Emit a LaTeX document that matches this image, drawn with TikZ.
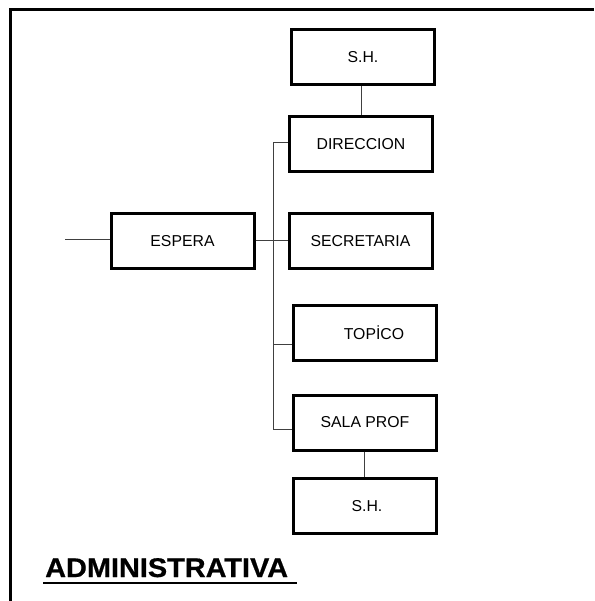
\documentclass[tikz,border=0pt]{standalone}
\usepackage{fontspec}
\setmainfont{Liberation Sans}
\begin{document}
\begin{tikzpicture}[x=1pt,y=1pt,
  roombox/.style={draw=black,line width=3pt,minimum width=143pt,minimum height=55pt,inner sep=0pt,font=\fontsize{15.8}{17}\selectfont,fill=white},
  link/.style={draw=black!75,line width=1pt}]
\useasboundingbox (0,0) rectangle (594,-601);
% frame
\draw[line width=3pt] (10,-601) -- (10,-10) -- (594,-10);
% boxes
\node[roombox] (sh1) at (363,-57) {S.H.};
\node[roombox] (dir) at (361,-144) {DIRECCION};
\node[roombox] (esp) at (182.5,-241) {\raisebox{-1pt}{ESPERA}};
\node[roombox] (sec) at (360.5,-241) {SECRETARIA};
\node[roombox] (top) at (365,-332.5) {\hspace*{18pt}TOPİCO};
\node[roombox] (sala) at (365,-422.5) {\raisebox{-3pt}{SALA PROF}};
\node[roombox] (sh2) at (365,-506) {\hspace*{4pt}S.H.};
\coordinate (in) at (65,-240);
\coordinate (bustop) at (273.5,-143);
\coordinate (busbot) at (273.5,-429);
\coordinate (topin) at ([yshift=-11.5pt]top.west);
\coordinate (salax) at (364,0);
% connectors
\draw[link] (dir.north) -- (dir.north |- sh1.south);
\draw[link] (in) -- (esp.west |- in);
\draw[link] (esp.east) -- (sec.west);
\draw[link] (dir.west |- bustop) -- (bustop) -- (busbot) -- (sala.west |- busbot);
\draw[link] (bustop |- topin) -- (topin);
\draw[link] (salax |- sala.south) -- (salax |- sh2.north);
% title
\node[anchor=base west,inner sep=0pt,font=\bfseries\fontsize{27}{30}\selectfont] (title) at (45,-577) {\scalebox{1.07}[1]{\addfontfeature{FakeBold=0.6}ADMINISTRATIVA}};
\draw[line width=2.5pt] (43,-583) -- (297,-583);
\end{tikzpicture}
\end{document}
